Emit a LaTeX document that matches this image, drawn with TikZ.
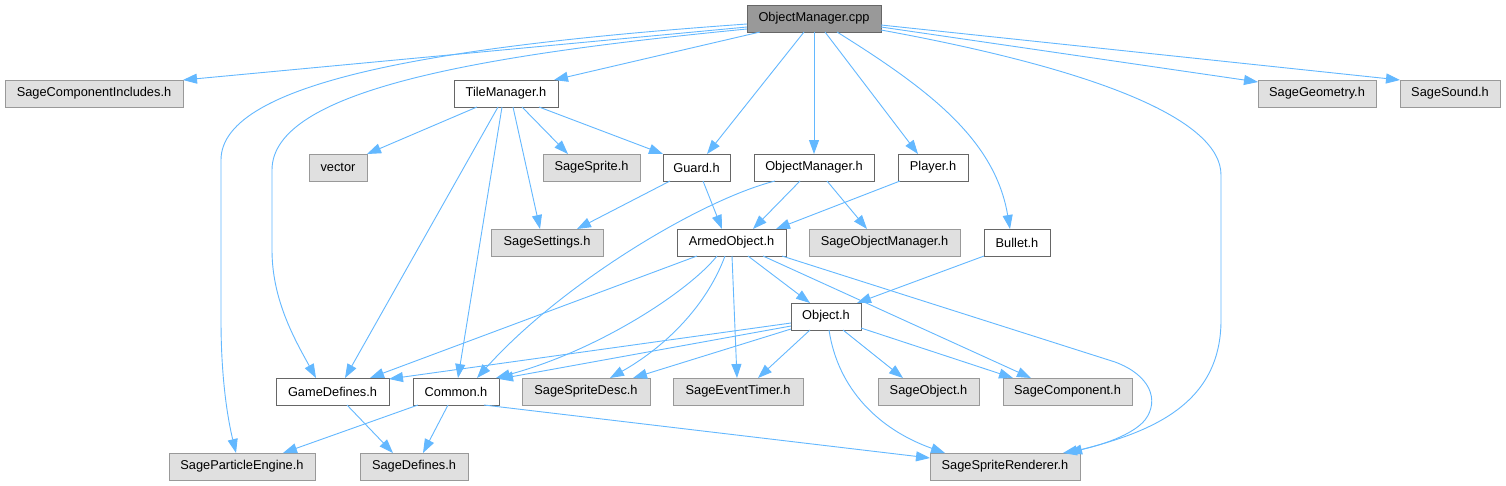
\documentclass[tikz,border=0pt]{standalone}
\usepackage{fontspec}
\setmainfont{Liberation Sans}
\usetikzlibrary{arrows.meta}
\definecolor{edgec}{HTML}{63B8FF}
\definecolor{grayfill}{HTML}{E0E0E0}
\definecolor{grayline}{HTML}{999999}
\definecolor{darkline}{HTML}{666666}
\definecolor{cppfill}{HTML}{999999}
\begin{document}
\begin{tikzpicture}[x=1pt,y=-1pt,
  box/.style={draw=darkline, fill=white, line width=1pt, minimum height=27pt, inner sep=0pt, outer sep=0pt, font=\fontsize{12.8}{15}\selectfont, text=black},
  ext/.style={box, draw=grayline, fill=grayfill},
  root/.style={box, draw=darkline, fill=cppfill},
  lnk/.style={draw=edgec, line width=0.9pt, -{Triangle[length=14pt,width=10pt]}}]
\path[fill=white, use as bounding box] (0,0) rectangle (1506,485);
% nodes
\node[root, minimum width=134pt] (cpp) at (814,18.5) {ObjectManager.cpp};
\node[ext, minimum width=178pt] (SCI) at (94,93.5) {SageComponentIncludes.h};
\node[box, minimum width=104pt] (TM) at (506,93.5) {TileManager.h};
\node[ext, minimum width=118pt] (SG) at (1317,93.5) {SageGeometry.h};
\node[ext, minimum width=100pt] (SS) at (1450,93.5) {SageSound.h};
\node[ext, minimum width=58pt] (vec) at (338,167.5) {vector};
\node[ext, minimum width=97pt] (SSp) at (591.5,167.5) {SageSprite.h};
\node[box, minimum width=67pt] (Guard) at (696.5,167.5) {Guard.h};
\node[box, minimum width=120pt] (OMh) at (814,167.5) {ObjectManager.h};
\node[box, minimum width=70pt] (Player) at (933,167.5) {Player.h};
\node[ext, minimum width=112pt] (SSet) at (547,242.5) {SageSettings.h};
\node[box, minimum width=109pt] (Armed) at (731.5,242.5) {ArmedObject.h};
\node[ext, minimum width=151pt] (SOM) at (884.5,242.5) {SageObjectManager.h};
\node[box, minimum width=66pt] (Bullet) at (1017,242.5) {Bullet.h};
\node[box, minimum width=70pt] (Object) at (826,316.5) {Object.h};
\node[box, minimum width=113pt] (GD) at (332.5,391.5) {GameDefines.h};
\node[box, minimum width=86pt] (Com) at (456,391.5) {Common.h};
\node[ext, minimum width=128pt] (SSD) at (586,391.5) {SageSpriteDesc.h};
\node[ext, minimum width=130pt] (SET) at (738,391.5) {SageEventTimer.h};
\node[ext, minimum width=101pt] (SO) at (928.5,391.5) {SageObject.h};
\node[ext, minimum width=129pt] (SC) at (1067.5,391.5) {SageComponent.h};
\node[ext, minimum width=146pt] (SPE) at (242,466.5) {SageParticleEngine.h};
\node[ext, minimum width=108pt] (SD) at (414,466.5) {SageDefines.h};
\node[ext, minimum width=150pt] (SSR) at (1005,466.5) {SageSpriteRenderer.h};
% edges from ObjectManager.cpp
\draw[lnk] ([yshift=5]cpp.south west) -- (SCI.north east);
\draw[lnk] ([xshift=13]cpp.south west) -- ([xshift=-4]TM.north east);
\draw[lnk] ([xshift=57]cpp.south west) -- ([xshift=44]Guard.north west);
\draw[lnk] (cpp.south) -- (OMh.north);
\draw[lnk] ([xshift=78]cpp.south west) -- ([xshift=20]Player.north west);
\draw[lnk] ([xshift=90]cpp.south west) .. controls (930,90) and (995,140) .. ([xshift=26]Bullet.north west);
\draw[lnk] ([yshift=2]cpp.south east) .. controls (1100,70) and (1221,120) .. (1221,175) -- (1221,320) .. controls (1221,405) and (1150,432) .. ([xshift=138]SSR.north west);
\draw[lnk] ([yshift=5]cpp.south east) -- ([yshift=-2]SG.north west);
\draw[lnk] ([yshift=7]cpp.south east) -- (SS.north west);
\draw[lnk] ([yshift=3]cpp.south west) .. controls (480,55) and (272,90) .. (272,170) -- (272,250) .. controls (272,300) and (295,340) .. ([xshift=40]GD.north west);
\draw[lnk] ([yshift=8]cpp.south west) .. controls (450,45) and (221,80) .. (221,160) -- (221,320) .. controls (221,380) and (228,420) .. ([xshift=67]SPE.north west);
% TileManager.h
\draw[lnk] ([xshift=23]TM.south west) -- (vec.north east);
\draw[lnk] ([xshift=68]TM.south west) -- ([xshift=25]SSp.north west);
\draw[lnk] ([xshift=85]TM.south west) -- (Guard.north west);
\draw[lnk] ([xshift=59]TM.south west) -- ([xshift=49]SSet.north west);
\draw[lnk] ([xshift=44]TM.south west) -- ([xshift=69]GD.north west);
\draw[lnk] ([xshift=48]TM.south west) -- ([xshift=45]Com.north west);
% Guard.h
\draw[lnk] ([xshift=7]Guard.south west) -- ([xshift=86]SSet.north west);
\draw[lnk] ([xshift=40]Guard.south west) -- ([xshift=45]Armed.north west);
% ObjectManager.h
\draw[lnk] ([xshift=46]OMh.south west) -- ([xshift=76]Armed.north west);
\draw[lnk] ([xshift=73]OMh.south west) -- ([xshift=58]SOM.north west);
\draw[lnk] ([xshift=21]OMh.south west) .. controls (700,200) and (560,285) .. ([xshift=64]Com.north west);
% Player.h, Bullet.h
\draw[lnk] ([xshift=2]Player.south west) -- ([xshift=99]Armed.north west);
\draw[lnk] (Bullet.south west) -- ([xshift=-4]Object.north east);
% ArmedObject.h
\draw[lnk] ([xshift=20]Armed.south west) -- ([xshift=94]GD.north west);
\draw[lnk] ([xshift=40]Armed.south west) .. controls (690,290) and (600,350) .. ([xshift=83]Com.north west);
\draw[lnk] ([xshift=48]Armed.south west) .. controls (705,310) and (660,350) .. ([xshift=88]SSD.north west);
\draw[lnk] ([xshift=55]Armed.south west) -- ([xshift=64]SET.north west);
\draw[lnk] ([xshift=71]Armed.south west) -- ([xshift=19]Object.north west);
\draw[lnk] ([xshift=86]Armed.south west) -- ([xshift=28]SC.north west);
\draw[lnk] ([xshift=105]Armed.south west) -- (1115,362) .. controls (1150,375) and (1160,400) .. (1145,420) .. controls (1130,438) and (1090,448) .. ([xshift=133]SSR.north west);
% Object.h
\draw[lnk] ([yshift=7]Object.south west) -- ([yshift=-1]GD.north east);
\draw[lnk] ([yshift=4]Object.south west) -- ([yshift=-1]Com.north east);
\draw[lnk] ([yshift=1]Object.south west) -- ([xshift=111]SSD.north west);
\draw[lnk] ([xshift=19]Object.south west) -- ([xshift=85]SET.north west);
\draw[lnk] ([xshift=52]Object.south west) -- ([xshift=25]SO.north west);
\draw[lnk] ([yshift=2]Object.south east) -- ([xshift=10]SC.north west);
\draw[lnk] ([xshift=38]Object.south west) .. controls (838,390) and (880,430) .. ([xshift=15]SSR.north west);
% GameDefines.h, Common.h
\draw[lnk] ([xshift=71]GD.south west) -- ([xshift=33]SD.north west);
\draw[lnk] ([xshift=5]Com.south west) -- ([xshift=114]SPE.north west);
\draw[lnk] ([xshift=35]Com.south west) -- ([xshift=63]SD.north west);
\draw[lnk] ([xshift=71]Com.south west) -- ([yshift=-5]SSR.north west);
\end{tikzpicture}
\end{document}
